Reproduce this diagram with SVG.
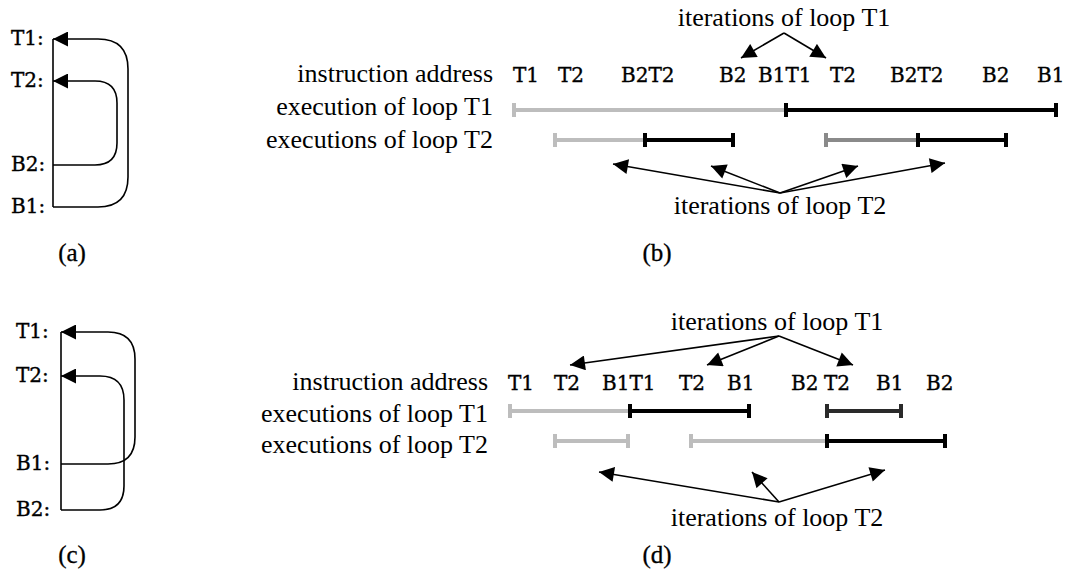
<svg xmlns="http://www.w3.org/2000/svg" width="1071" height="580" viewBox="0 0 1071 580">
<style>
.lbl{font-family:"DejaVu Serif","Liberation Serif",serif;font-size:20px;fill:#000;stroke:#000;stroke-width:0.35}
.big{font-family:"Liberation Serif","Times New Roman",serif;font-size:26px;fill:#000}
.cap{font-family:"Liberation Serif","Times New Roman",serif;font-size:25px;fill:#000;stroke:#000;stroke-width:0.3;text-anchor:middle}
.rt{text-anchor:end}
.mid{text-anchor:middle}
.flow{fill:none;stroke:#000;stroke-width:1.6}
.arr{fill:none;stroke:#000;stroke-width:1.6;marker-end:url(#ah)}
.bar{stroke-width:4;fill:none}
.lg{stroke:#bdbdbd}
.mg{stroke:#8a8a8a}
.dk{stroke:#000}
.dd{stroke:#2a2a2a}
</style>
<defs>
<marker id="ah" viewBox="0 0 10 10" refX="10" refY="5" markerWidth="16" markerHeight="15" markerUnits="userSpaceOnUse" orient="auto">
<path d="M0,0 L10,5 L0,10 z" fill="#000"/>
</marker>
</defs>
<rect width="1071" height="580" fill="#fff"/>

<g id="panel-a">
<text class="lbl" x="11" y="45">T1:</text>
<text class="lbl" x="11" y="87">T2:</text>
<text class="lbl" x="11" y="171">B2:</text>
<text class="lbl" x="11" y="213">B1:</text>
<line class="flow" x1="53" y1="39" x2="53" y2="207"/>
</g>

<g id="panel-c">
<text class="lbl" x="16" y="338">T1:</text>
<text class="lbl" x="16" y="382">T2:</text>
<text class="lbl" x="16" y="470">B1:</text>
<text class="lbl" x="16" y="516">B2:</text>
<line class="flow" x1="61" y1="332" x2="61" y2="510"/>
</g>

<g id="panel-b">
<text class="big rt" x="493" y="82">instruction address</text>
<text class="big rt" x="493" y="115">execution of loop T1</text>
<text class="big rt" x="493" y="148">executions of loop T2</text>
<text class="lbl" x="513" y="82">T1</text>
<text class="lbl" x="558" y="82">T2</text>
<text class="lbl" x="621" y="82">B2T2</text>
<text class="lbl" x="719" y="82">B2</text>
<text class="lbl" x="758" y="82">B1T1</text>
<text class="lbl" x="830" y="82">T2</text>
<text class="lbl" x="890" y="82">B2T2</text>
<text class="lbl" x="982" y="82">B2</text>
<text class="lbl" x="1037" y="82">B1</text>
<text class="big mid" x="784" y="26">iterations of loop T1</text>
<text class="big mid" x="780" y="214">iterations of loop T2</text>
<g id="bars-b">
<line class="bar lg" x1="512" y1="110" x2="784" y2="110"/>
<line class="bar lg" x1="514" y1="103" x2="514" y2="117"/>
<line class="bar dk" x1="784" y1="110" x2="1057" y2="110"/>
<line class="bar dk" x1="786" y1="103" x2="786" y2="117"/>
<line class="bar dk" x1="1056" y1="103" x2="1056" y2="117"/>
<line class="bar lg" x1="553" y1="140" x2="643" y2="140"/>
<line class="bar lg" x1="555" y1="133" x2="555" y2="147"/>
<line class="bar dk" x1="643" y1="140" x2="734" y2="140"/>
<line class="bar dk" x1="645" y1="133" x2="645" y2="147"/>
<line class="bar dk" x1="733" y1="133" x2="733" y2="147"/>
<line class="bar mg" x1="824" y1="140" x2="916" y2="140"/>
<line class="bar mg" x1="826" y1="133" x2="826" y2="147"/>
<line class="bar dk" x1="916" y1="140" x2="1007" y2="140"/>
<line class="bar dk" x1="918" y1="133" x2="918" y2="147"/>
<line class="bar dk" x1="1006" y1="133" x2="1006" y2="147"/>
</g>
</g>

<g id="panel-d">
<text class="big rt" x="488" y="390">instruction address</text>
<text class="big rt" x="488" y="422">executions of loop T1</text>
<text class="big rt" x="488" y="453">executions of loop T2</text>
<text class="lbl" x="508" y="390">T1</text>
<text class="lbl" x="554" y="390">T2</text>
<text class="lbl" x="602" y="390">B1T1</text>
<text class="lbl" x="679" y="390">T2</text>
<text class="lbl" x="727" y="390">B1</text>
<text class="lbl" x="791" y="390">B2</text>
<text class="lbl" x="824" y="390">T2</text>
<text class="lbl" x="876" y="390">B1</text>
<text class="lbl" x="926" y="390">B2</text>
<text class="big mid" x="777" y="330">iterations of loop T1</text>
<text class="big mid" x="777" y="526">iterations of loop T2</text>
<g id="bars-d">
<line class="bar lg" x1="508" y1="411" x2="628" y2="411"/>
<line class="bar lg" x1="510" y1="404" x2="510" y2="418"/>
<line class="bar dk" x1="628" y1="411" x2="750" y2="411"/>
<line class="bar dk" x1="630" y1="404" x2="630" y2="418"/>
<line class="bar dk" x1="749" y1="404" x2="749" y2="418"/>
<line class="bar dd" x1="825" y1="411" x2="902" y2="411"/>
<line class="bar dd" x1="827" y1="404" x2="827" y2="418"/>
<line class="bar dd" x1="901" y1="404" x2="901" y2="418"/>
<line class="bar lg" x1="553" y1="441" x2="628" y2="441"/>
<line class="bar lg" x1="555" y1="434" x2="555" y2="448"/>
<line class="bar lg" x1="628" y1="434" x2="628" y2="448"/>
<line class="bar lg" x1="689" y1="441" x2="825" y2="441"/>
<line class="bar lg" x1="691" y1="434" x2="691" y2="448"/>
<line class="bar dk" x1="825" y1="441" x2="946" y2="441"/>
<line class="bar dk" x1="827" y1="434" x2="827" y2="448"/>
<line class="bar dk" x1="945" y1="434" x2="945" y2="448"/>
</g>
</g>

<g id="captions">
<text class="cap" x="72" y="261">(a)</text>
<text class="cap" x="657" y="261">(b)</text>
<text class="cap" x="72" y="563">(c)</text>
<text class="cap" x="657" y="563">(d)</text>
</g>

<g id="connectors">
<path class="arr" d="M53,207 H98 Q128,207 128,177 V69 Q128,39 98,39 H53"/>
<path class="arr" d="M53,165 H95 Q117,165 117,143 V103 Q117,81 95,81 H53"/>
<path class="arr" d="M61,464 H108 Q135,464 135,437 V359 Q135,332 108,332 H61"/>
<path class="arr" d="M61,510 H100 Q124,510 124,486 V400 Q124,376 100,376 H61"/>
<line class="arr" x1="784" y1="33" x2="741" y2="58"/>
<line class="arr" x1="784" y1="33" x2="826" y2="58"/>
<line class="arr" x1="780" y1="193" x2="613" y2="164"/>
<line class="arr" x1="780" y1="193" x2="711" y2="166"/>
<line class="arr" x1="780" y1="193" x2="858" y2="166"/>
<line class="arr" x1="780" y1="193" x2="945" y2="163"/>
<line class="arr" x1="779" y1="336" x2="570" y2="365"/>
<line class="arr" x1="779" y1="336" x2="707" y2="365"/>
<line class="arr" x1="779" y1="336" x2="853" y2="365"/>
<line class="arr" x1="779" y1="502" x2="599" y2="472"/>
<line class="arr" x1="779" y1="502" x2="752" y2="472"/>
<line class="arr" x1="779" y1="502" x2="885" y2="470"/>
</g>
</svg>
